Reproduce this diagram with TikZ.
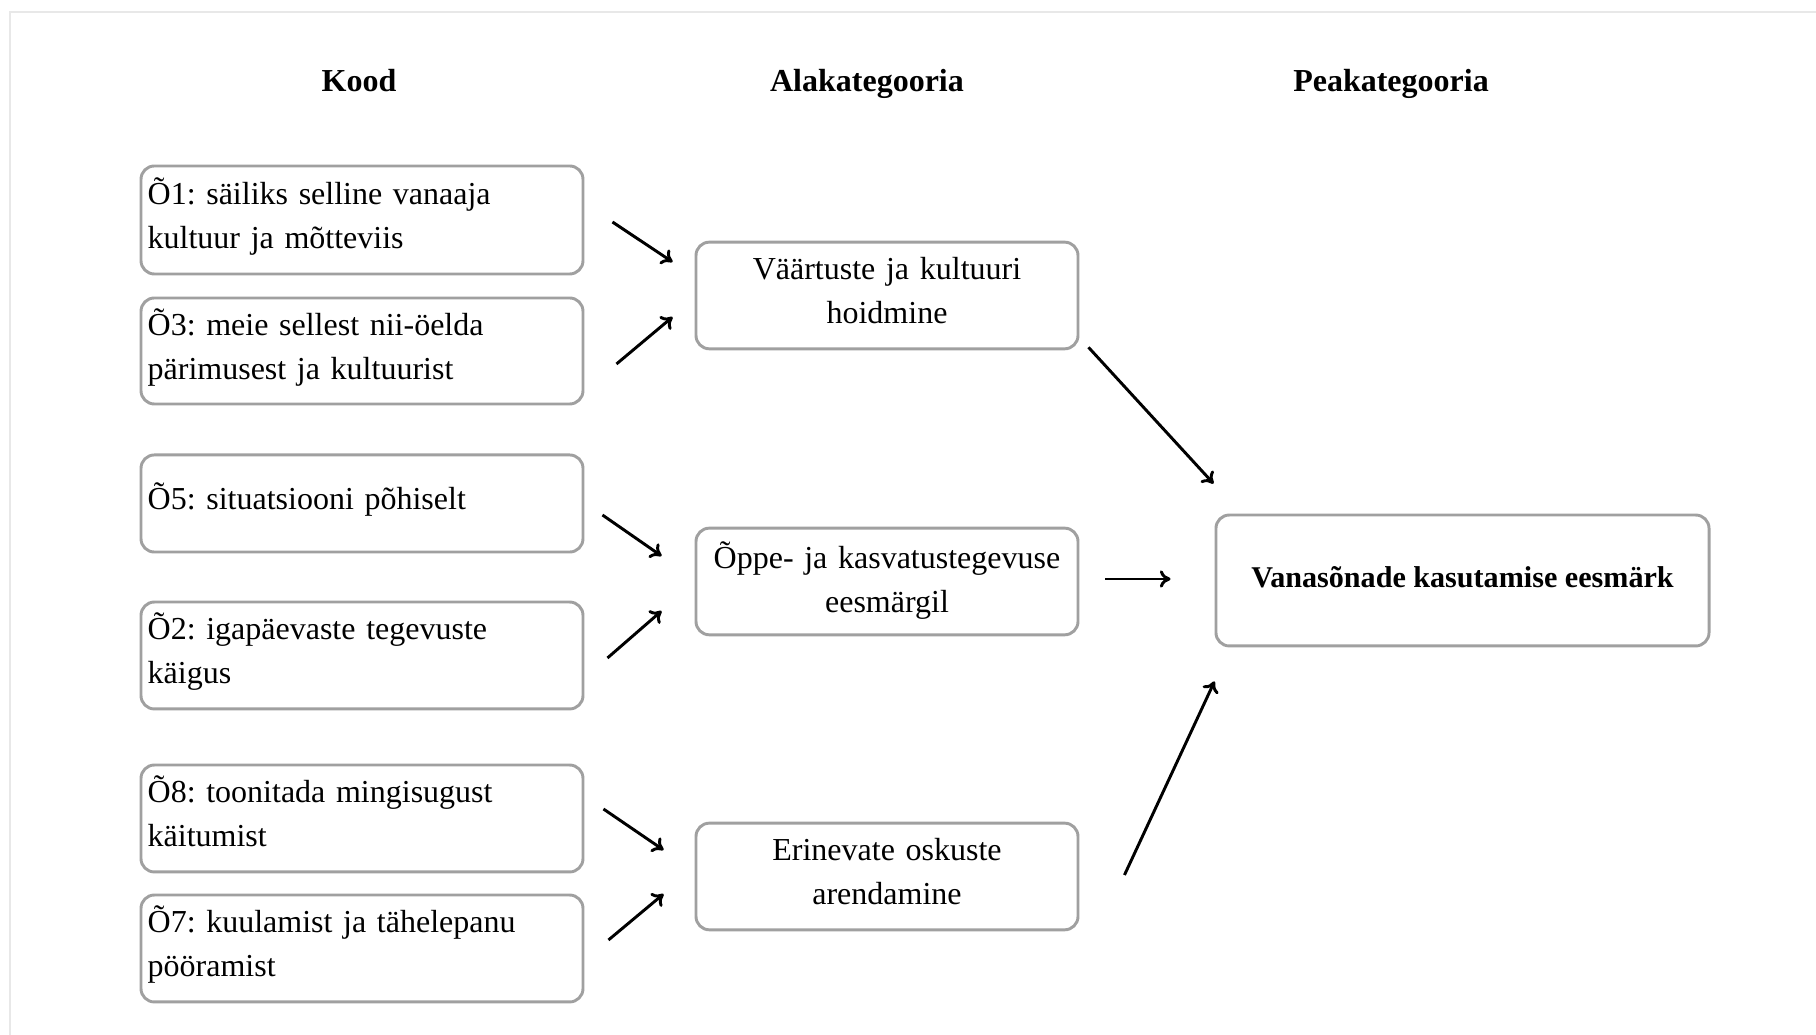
\documentclass[tikz,border=0pt]{standalone}
\usepackage{fontspec}
\setmainfont{Liberation Serif}
\usetikzlibrary{positioning}
\usetikzlibrary{arrows.meta}
\definecolor{boxgray}{RGB}{160,160,160}
\definecolor{framegray}{RGB}{232,232,232}
\frenchspacing

\begin{document}
\begin{tikzpicture}[x=0.375pt,y=-0.375pt,
	every node/.style={font=\fontsize{12}{16.5}\selectfont},
	head/.style={font=\fontsize{12}{16.5}\selectfont\bfseries, anchor=base},
	koodbox/.style={draw=boxgray, line width=1.1pt, rounded corners=5pt, text width=160.75pt, align=left, inner xsep=2.5pt, inner ysep=0pt, text depth=21.9pt},
	alabox/.style={draw=boxgray, line width=1.1pt, rounded corners=5pt, text width=137.25pt, align=center, inner xsep=3pt, inner ysep=0pt, minimum height=40pt, text depth=20.1pt},
	peabox/.style={draw=boxgray, line width=1.1pt, rounded corners=5pt, minimum width=184.9pt, minimum height=49.1pt, text depth=2.8pt, font=\fontsize{11.3}{14}\selectfont\bfseries},
	arr/.style={-{To[length=4pt,width=6.5pt]}, line width=1.1pt}]
			\useasboundingbox (0,0) rectangle (1816,1035);
			\draw[framegray, line width=0.6pt] (1816,12) -| (10,1035); %page edge
			% column titles
			\node[head] at (359,92) (kood) {Kood};
			\node[head] at (867,92) (alak) {Alakategooria};
			\node[head] at (1391,92) (peak) {Peakategooria};
			% codes
			\node[koodbox, minimum height=40.5pt] at (362,220) (o1) {Õ1: säiliks selline vanaaja\\kultuur ja mõtteviis};
			\node[koodbox, minimum height=39.75pt] at (362,351) (o3) {Õ3: meie sellest nii-öelda\\pärimusest ja kultuurist};
			\node[koodbox, minimum height=36.4pt, text depth=5.6pt] at (362,503.5) (o5) {Õ5: situatsiooni põhiselt};
			\node[koodbox, minimum height=40.1pt] at (362,655.5) (o2) {Õ2: igapäevaste tegevuste\\käigus};
			\node[koodbox, minimum height=40.1pt] at (362,818.5) (o8) {Õ8: toonitada mingisugust\\käitumist};
			\node[koodbox, minimum height=40.1pt] at (362,948.5) (o7) {Õ7: kuulamist ja tähelepanu\\pööramist};
			% subcategories
			\node[alabox] at (887,295.5) (vk) {Väärtuste ja kultuuri\\hoidmine};
			\node[alabox] at (887,581.5) (op) {Õppe- ja kasvatustegevuse\\eesmärgil};
			\node[alabox] at (887,876.5) (er) {Erinevate oskuste\\arendamine};
			% main category
			\node[peabox] at (1462.5,580.5) (pk) {Vanasõnade kasutamise eesmärk};
			% arrows
			\draw[arr] ([shift={(28,2)}]o1.east) -- ([shift={(-22,-33.5)}]vk.west);
			\draw[arr] ([shift={(32,13)}]o3.east) -- ([shift={(-22,21.5)}]vk.west);
			\draw[arr] ([shift={(18,11.5)}]o5.east) -- ([shift={(-33,-25.5)}]op.west);
			\draw[arr] ([shift={(23,2.5)}]o2.east) -- ([shift={(-33,29.5)}]op.west);
			\draw[arr] ([shift={(19,-9.5)}]o8.east) -- ([shift={(-31,-26.5)}]er.west);
			\draw[arr] ([shift={(24,-8.5)}]o7.east) -- ([shift={(-31,17.5)}]er.west);
			\draw[arr] ([shift={(9,-3)}]vk.south east) -- ([shift={(-1,-30)}]pk.north west);
			\draw[arr] ([shift={(26,-2.5)}]op.east) -- ([shift={(-44,-1.5)}]pk.west);
			\draw[arr] ([shift={(45,-1.5)}]er.east) -- ([shift={(0,34)}]pk.south west);
\end{tikzpicture}
\end{document}
